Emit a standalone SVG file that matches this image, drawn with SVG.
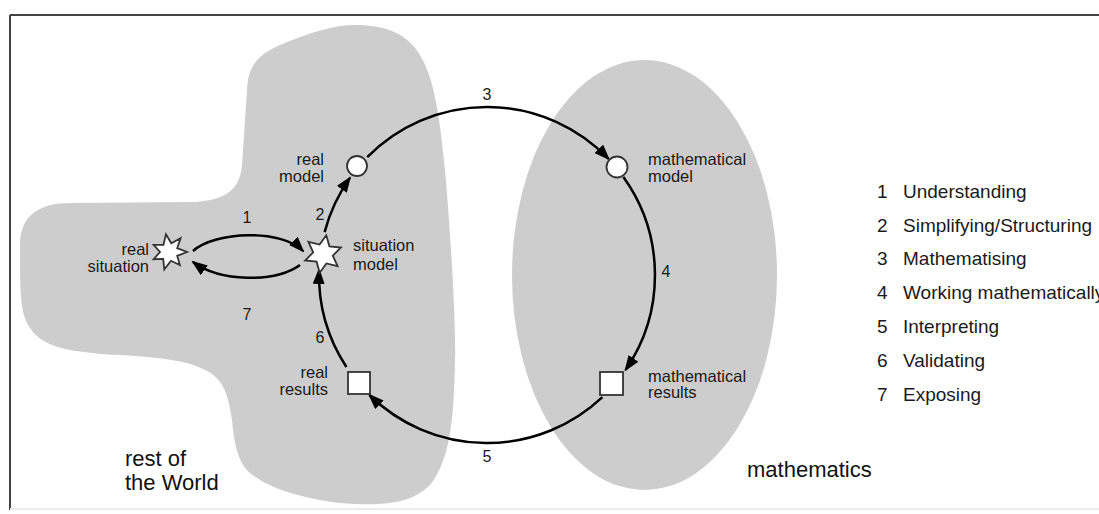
<svg xmlns="http://www.w3.org/2000/svg" width="1099" height="514" viewBox="0 0 1099 514">
<style>
  .region { fill: #cdcdcd; stroke: none; }
  .lbl { font-family: "Liberation Sans", Arial, sans-serif; font-size: 16.5px; fill: #1a1a1a; }
  .num { font-family: "Liberation Sans", Arial, sans-serif; font-size: 16px; fill: #1a1a1a; text-anchor: middle; }
  .big { font-family: "Liberation Sans", Arial, sans-serif; font-size: 22px; fill: #111; }
  .leg { font-family: "Liberation Sans", Arial, sans-serif; font-size: 19px; fill: #1a1a1a; }
  .node { fill: #fff; stroke: #333; stroke-width: 1.8; }
  .conn { fill: none; stroke: #000; stroke-width: 2.5; marker-end: url(#ah); }
</style>
<defs>
  <marker id="ah" markerUnits="userSpaceOnUse" markerWidth="16" markerHeight="12" refX="14" refY="6" orient="auto">
    <path d="M0,0 L16,6 L0,12 Z" fill="#000"/>
  </marker>
</defs>
<rect x="0" y="0" width="1099" height="514" fill="#fff"/>
<g id="frame" fill="none">
  <line x1="10" y1="15" x2="1099" y2="15" stroke="#444" stroke-width="2"/>
  <line x1="10" y1="15" x2="10" y2="510" stroke="#444" stroke-width="2"/>
  <line x1="10" y1="509" x2="1099" y2="509" stroke="#ececec" stroke-width="2"/>
</g>
<g id="regions">
  <path id="restOfWorld" class="region" d="M20,245 C20,215 40,203 70,203 L195,202 C225,200 240,190 242,165 L247,90 C248,65 258,55 280,45 C310,32 335,25 355,25 C380,25 405,30 420,55 C435,80 440,120 445,170 C452,250 456,330 455,360 C454,420 450,460 430,485 C410,505 380,506 340,503 C300,498 262,487 245,468 C236,455 234,440 232,420 C228,392 222,378 205,370 C190,362 170,358 120,355 C60,352 40,345 28,325 C20,310 20,290 20,245 Z"/>
  <ellipse id="mathematicsRegion" class="region" cx="644.5" cy="275" rx="132.5" ry="215"/>
  <text class="big" x="125" y="466">rest of</text>
  <text class="big" x="125" y="490">the World</text>
  <text class="big" x="747" y="477">mathematics</text>
</g>
<g id="connectors">
  <path class="conn" d="M193,251 C215,231 282,229 303,251"/>
  <path class="conn" d="M300,265 C275,283 220,282 193,262"/>
  <path class="conn" d="M324.6,232.1 A168,168 0 0 1 349.9,177.9"/>
  <path class="conn" d="M367.2,157.2 A168,168 0 0 1 608.5,158.9"/>
  <path class="conn" d="M623.4,177 A168,168 0 0 1 625.6,369.9"/>
  <path class="conn" d="M602.4,397.1 A168,168 0 0 1 369.4,395"/>
  <path class="conn" d="M346.4,367 A168,168 0 0 1 319.1,270"/>
  <text class="num" x="247" y="223">1</text>
  <text class="num" x="320" y="220">2</text>
  <text class="num" x="487" y="100">3</text>
  <text class="num" x="666" y="277">4</text>
  <text class="num" x="487" y="462">5</text>
  <text class="num" x="320" y="343">6</text>
  <text class="num" x="247" y="320">7</text>
</g>
<g id="realSituation">
  <polygon class="node" points="165.9,234.3 171.3,243.3 180.6,238.2 177.2,248.2 187,252 177.2,255.8 179.9,265 171,260.8 164.3,269.4 163.2,258.9 153.6,259.2 160,252 153.6,244.8 163.5,244.9"/>
  <text class="lbl" x="149" y="255" text-anchor="end">real</text>
  <text class="lbl" x="149" y="272" text-anchor="end">situation</text>
</g>
<g id="situationModel">
  <polygon class="node" points="326.3,235.3 329.4,246.3 340.9,247.5 332.8,255.7 337.6,266.2 326.4,263.4 319.7,272.7 316.6,261.7 305.1,260.5 313.2,252.3 308.4,241.8 319.6,244.6"/>
  <text class="lbl" x="353" y="251">situation</text>
  <text class="lbl" x="353" y="270">model</text>
</g>
<g id="realModel">
  <circle class="node" cx="357" cy="166" r="10"/>
  <text class="lbl" x="324" y="165" text-anchor="end">real</text>
  <text class="lbl" x="324" y="182" text-anchor="end">model</text>
</g>
<g id="mathematicalModel">
  <circle class="node" cx="617" cy="167" r="10.5"/>
  <text class="lbl" x="648" y="165">mathematical</text>
  <text class="lbl" x="648" y="182">model</text>
</g>
<g id="mathematicalResults">
  <rect class="node" x="600" y="372" width="23" height="23"/>
  <text class="lbl" x="648" y="382">mathematical</text>
  <text class="lbl" x="648" y="398">results</text>
</g>
<g id="realResults">
  <rect class="node" x="348" y="372" width="22" height="22"/>
  <text class="lbl" x="328" y="378" text-anchor="end">real</text>
  <text class="lbl" x="328" y="395" text-anchor="end">results</text>
</g>
<g id="legend">
  <text class="leg" x="877" y="198">1</text><text class="leg" x="903" y="198">Understanding</text>
  <text class="leg" x="877" y="232">2</text><text class="leg" x="903" y="232">Simplifying/Structuring</text>
  <text class="leg" x="877" y="265">3</text><text class="leg" x="903" y="265">Mathematising</text>
  <text class="leg" x="877" y="299">4</text><text class="leg" x="903" y="299">Working mathematically</text>
  <text class="leg" x="877" y="333">5</text><text class="leg" x="903" y="333">Interpreting</text>
  <text class="leg" x="877" y="367">6</text><text class="leg" x="903" y="367">Validating</text>
  <text class="leg" x="877" y="401">7</text><text class="leg" x="903" y="401">Exposing</text>
</g>
</svg>
